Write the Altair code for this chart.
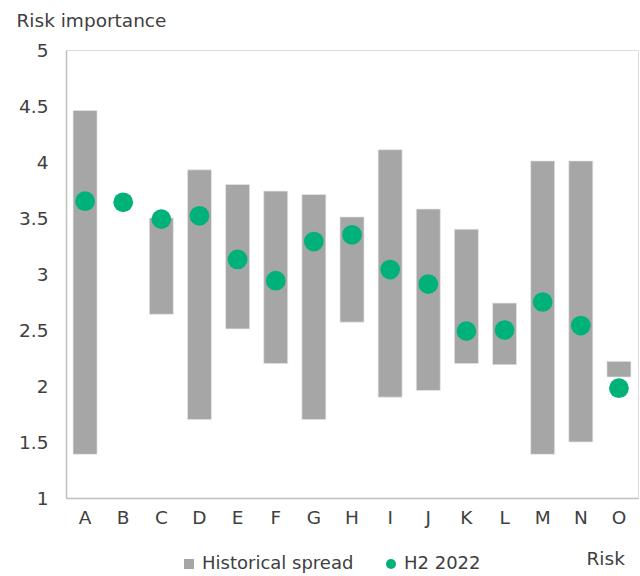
import altair as alt
import pandas as pd

categories = ["A", "B", "C", "D", "E", "F", "G", "H", "I", "J", "K", "L", "M", "N", "O"]
hist_low = [1.39, None, 2.64, 1.70, 2.51, 2.20, 1.70, 2.57, 1.90, 1.96, 2.20, 2.19, 1.39, 1.50, 2.08]
hist_high = [4.46, None, 3.50, 3.93, 3.80, 3.74, 3.71, 3.51, 4.11, 3.58, 3.40, 2.74, 4.01, 4.01, 2.22]
h2_2022 = [3.65, 3.64, 3.49, 3.52, 3.13, 2.94, 3.29, 3.35, 3.04, 2.91, 2.49, 2.50, 2.75, 2.54, 1.98]
series_names = ["Historical spread", "H2 2022"]
colors = ["#A6A6A6", "#00B17A"]
y_ticks = [1, 1.5, 2, 2.5, 3, 3.5, 4, 4.5, 5]

bars_df = pd.DataFrame({"risk": categories, "low": hist_low, "high": hist_high,
                        "series": series_names[0]}).dropna()
points_df = pd.DataFrame({"risk": categories, "value": h2_2022, "series": series_names[1]})

FONT = "DejaVu Sans"
TXT = "#404040"
FS = 18.5

x_scale = alt.Scale(domain=categories, paddingInner=0.37, paddingOuter=0.185)
x_axis = alt.Axis(title="Risk", titleX=520, titleY=66, titleAlign="left",
                  titleBaseline="alphabetic", titleFont=FONT, titleFontSize=FS,
                  titleFontWeight="normal", titleColor=TXT, labelAngle=0,
                  labelFont=FONT, labelFontSize=FS, labelColor=TXT, labelPadding=10,
                  ticks=False, domainColor="#BFBFBF", domainWidth=1.5)
y_scale = alt.Scale(domain=[1, 5], nice=False, zero=False)
y_axis = alt.Axis(title="Risk importance", titleAngle=0, titleX=-50, titleY=-24,
                  titleAlign="left", titleBaseline="alphabetic", titleFont=FONT,
                  titleFontSize=FS, titleFontWeight="normal", titleColor=TXT,
                  values=y_ticks, format="~g", labelFont=FONT, labelFontSize=FS,
                  labelColor=TXT, labelPadding=18, ticks=False,
                  domainColor="#BFBFBF", domainWidth=1.5, grid=False)
legend = alt.Legend(title=None, orient="none", legendX=114, legendY=505,
                    direction="horizontal", symbolSize=100, labelFont=FONT,
                    labelFontSize=18, labelColor=TXT, columnPadding=28,
                    labelOffset=4, symbolStrokeWidth=0)
color_scale = alt.Scale(domain=series_names, range=colors)

bars = alt.Chart(bars_df).mark_bar(stroke="#E8E8E8", strokeWidth=0.7).encode(
    x=alt.X("risk:N", scale=x_scale, sort=categories, axis=x_axis),
    y=alt.Y("low:Q", scale=y_scale, axis=y_axis),
    y2="high:Q",
    color=alt.Color("series:N", scale=color_scale, legend=legend),
)

points = alt.Chart(points_df).mark_point(filled=True, opacity=1, size=390).encode(
    x=alt.X("risk:N", scale=x_scale, sort=categories, axis=x_axis),
    y=alt.Y("value:Q", scale=y_scale, axis=y_axis),
    color=alt.Color("series:N", scale=color_scale, legend=legend),
    shape=alt.Shape("series:N", scale=alt.Scale(domain=series_names, range=["square", "circle"]),
                    legend=legend),
)

chart = alt.layer(bars, points).properties(
    width=572, height=448,
    autosize=alt.AutoSizeParams(type="none"),
    padding={"left": 66, "top": 50, "right": 2, "bottom": 78},
).configure_view(strokeWidth=0).configure(background="white")

chart.save("out.html", embed_options={"renderer": "svg", "actions": False})
